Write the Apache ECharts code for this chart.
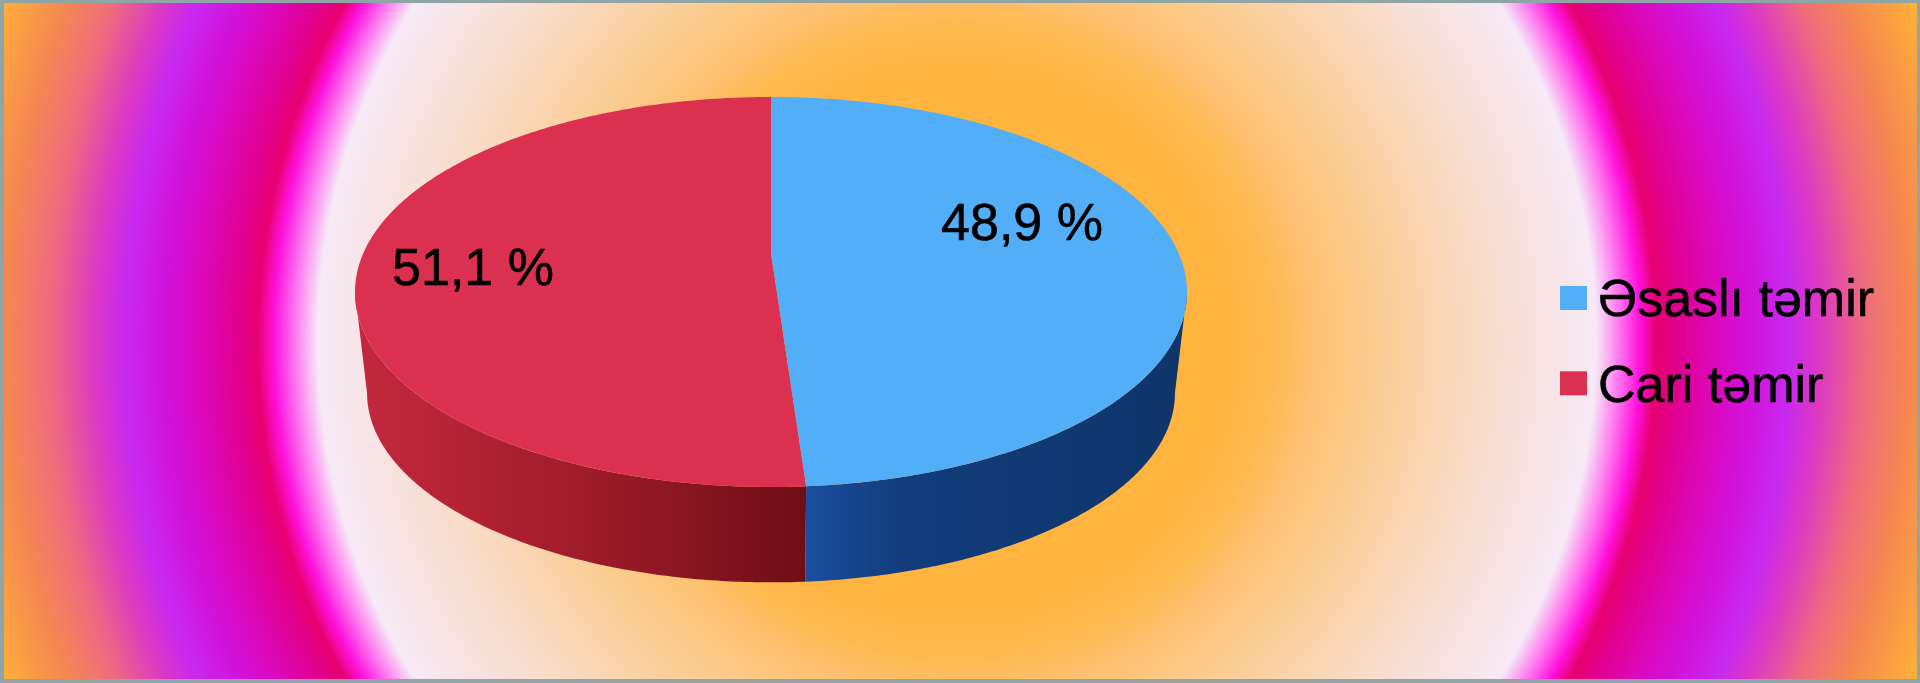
<!DOCTYPE html>
<html><head><meta charset="utf-8">
<style>html,body{margin:0;padding:0;background:#fff}#c{width:1920px;height:683px}</style>
<script src="https://cdn.jsdelivr.net/npm/echarts@6/dist/echarts.min.js"></script>
</head><body><div id="c"></div>
<script>
var categories = ['Əsaslı təmir', 'Cari təmir'];
var shares = [48.9, 51.1];
var valueLabels = ['48,9 %', '51,1 %'];
var topColors = ['#53AEF8', '#DC3050'];
var wallStops = [
  [[0, '#1A4E9E'], [0.25, '#123C7C'], [1, '#0F356A']],
  [[0, '#C4283E'], [0.5, '#A01C2A'], [1, '#6E0E16']]
];
var labelAnchors = [[1022, 226], [473, 271]];

// view geometry of the tilted disc
var CX = 771, PERSP = -0.2, YA = 136.6, YB = 253, XR = 407.6;
var BOTTOM_SCALE = 0.971, BOTTOM_SHIFT = 101;
var WALL_START = Math.PI - Math.acos(0.2), WALL_END = Math.PI + Math.acos(0.2);
function project(theta, level) {
  var u = Math.sin(theta), v = -Math.cos(theta), w = 1 + PERSP * v;
  var x = XR * u / w, y = (YA * v + YB) / w;
  if (level) { x *= BOTTOM_SCALE; y = 292 + (y - 292) * BOTTOM_SCALE + BOTTOM_SHIFT; }
  return [CX + x, y];
}
function arc(a0, a1, level) {
  var n = Math.max(2, Math.ceil(Math.abs(a1 - a0) / 0.01)), pts = [];
  for (var i = 0; i <= n; i++) pts.push(project(a0 + (a1 - a0) * i / n, level));
  return pts;
}
var total = shares.reduce(function (s, v) { return s + v; }, 0);
function sliceAngles(idx) {
  var before = 0;
  for (var i = 0; i < idx; i++) before += shares[i];
  return [before / total * 2 * Math.PI, (before + shares[idx]) / total * 2 * Math.PI];
}
function makeSeries(idx) {
  return {
    type: 'custom', name: categories[idx], coordinateSystem: 'none',
    itemStyle: { color: topColors[idx] },
    z: 2, silent: true,
    data: [{ name: categories[idx], value: [shares[idx]] }],
    renderItem: function () {
      var a = sliceAngles(idx);
      var wa0 = Math.max(a[0], WALL_START), wa1 = Math.min(a[1], WALL_END);
      var wallPts = arc(wa0, wa1, 0).concat(arc(wa1, wa0, 1));
      var xs = wallPts.map(function (p) { return p[0]; });
      var xMin = Math.min.apply(null, xs), xMax = Math.max.apply(null, xs);
      var stops = wallStops[idx].map(function (s) { return { offset: s[0], color: s[1] }; });
      var fill = new echarts.graphic.LinearGradient(xMin, 0, xMax, 0, stops, true);
      var face = [[CX, YB]].concat(arc(a[0], a[1], 0));
      return {
        type: 'group',
        children: [
          { type: 'polygon', z2: 1, shape: { points: wallPts }, style: { fill: fill } },
          { type: 'polygon', z2: 5, shape: { points: face }, style: { fill: topColors[idx] } },
          { type: 'text', z2: 10, style: {
              x: labelAnchors[idx][0], y: labelAnchors[idx][1], text: valueLabels[idx],
              fill: '#000', stroke: '#000', lineWidth: 0.6,
              font: '52px "Liberation Sans", Arial, sans-serif',
              align: 'center', verticalAlign: 'middle' } }
        ]
      };
    }
  };
}
var bgStops = [
  [0, '#FFB43C'], [0.27, '#FFB440'], [0.31, '#FEB94E'], [0.35, '#FDC170'], [0.412, '#FBCC90'], [0.478, '#F9D6B4'],
  [0.551, '#F8E0D8'], [0.63, '#F6EAF6'], [0.653, '#FF78F0'], [0.674, '#FF10DC'], [0.69, '#E6006E'],
  [0.712, '#E00090'], [0.745, '#DC08B8'], [0.778, '#D210D8'], [0.82, '#C828F0'], [0.85, '#DC38C4'], [0.895, '#EE6C7E'],
  [0.94, '#F58850'], [1, '#FFB03A']
];
var BG_CX = 957, BG_CY = 341, BG_R = 1014;
var chart = echarts.init(document.getElementById('c'), null, { renderer: 'canvas' });
chart.setOption({
  animation: false,
  backgroundColor: new echarts.graphic.RadialGradient(BG_CX, BG_CY, BG_R,
    bgStops.map(function (s) { return { offset: s[0], color: s[1] }; }), true),
  legend: {
    orient: 'vertical', left: 1555, top: 263, icon: 'rect',
    itemWidth: 27, itemHeight: 24, itemGap: 25, selectedMode: false,
    formatter: '{t|{name}}',
    textStyle: {
      fontSize: 52, color: '#000', fontFamily: '"Liberation Sans", Arial, sans-serif', padding: [0, 0, 0, 6],
      rich: { t: { fontSize: 52, color: '#000', fontFamily: '"Liberation Sans", Arial, sans-serif',
        lineHeight: 60, padding: [8, 0, 0, 0], textBorderColor: '#000', textBorderWidth: 0.6 } }
    },
    data: categories
  },
  graphic: [{ type: 'rect', silent: true, z: 50,
    shape: { x: 2, y: 1, width: 1917, height: 680 },
    style: { fill: 'none', stroke: '#8FA5A6', lineWidth: 4 } }],
  series: [makeSeries(1), makeSeries(0)]
});
</script></body></html>
